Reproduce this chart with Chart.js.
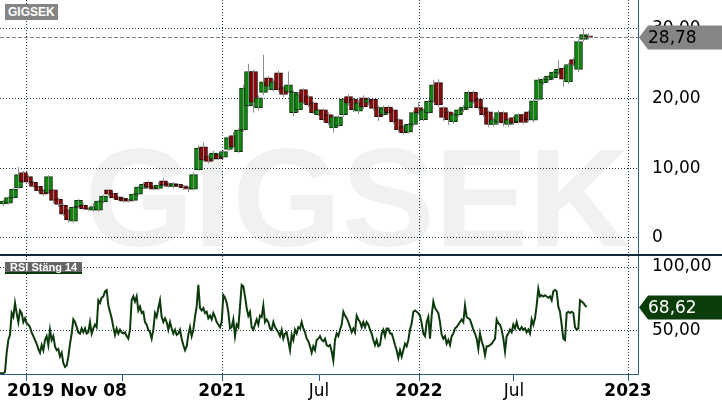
<!DOCTYPE html>
<html>
<head>
<meta charset="utf-8">
<script src="https://cdn.jsdelivr.net/npm/chart.js@4.4.0/dist/chart.umd.min.js"></script>
<style>
    html, body { margin: 0; padding: 0; background: #fff; }
    #wrap { position: relative; width: 722px; height: 410px; overflow: hidden; }
    #priceChart { position: absolute; left: 0; top: 0; }
    #sep { position: absolute; left: 0; top: 254px; width: 722px; height: 2px; background: #0c2a3c; }
    #rsiChart { position: absolute; left: 0; top: 256px; }
    .tag { position: absolute; color: #fff; font: bold 12px "Liberation Sans", Arial, sans-serif; padding: 0 3px; white-space: nowrap; }
    #tagPrice { left: 5px; top: 4px; height: 16px; line-height: 16px; background: #858585; }
    #tagRsi { left: 5px; top: 262px; height: 10px; line-height: 11px; font-size: 11px; background: #666; border-bottom: 2px solid #0b3a0b; padding: 0 5px; }
</style>
</head>
<body>
<div id="wrap">
    <canvas id="priceChart" width="722" height="254"></canvas>
    <div id="sep"></div>
    <canvas id="rsiChart" width="722" height="154"></canvas>
    <div class="tag" id="tagPrice">GIGSEK</div>
    <div class="tag" id="tagRsi">RSI Stäng 14</div>
</div>
<script>
const symbol = 'GIGSEK';

// weekly candles
const opens = [
    4.9, 5.0, 5.8, 7.2, 9.4, 8.8, 8.0, 7.4, 6.9, 6.5,
    6.9, 5.6, 4.7, 4.0, 2.4, 4.5, 4.7, 4.3, 4.0, 4.0,
    5.2, 6.9, 6.4, 5.9, 5.7, 5.5, 5.4, 6.3, 7.1, 8.0,
    7.4, 7.1, 8.2, 7.8, 7.4, 7.7, 7.5, 7.3, 7.0, 9.8,
    13.1, 11.7, 11.3, 12.0, 11.6, 12.7, 14.7, 12.4, 15.5, 19.0,
    23.9, 18.7, 20.9, 23.0, 21.3, 23.7, 21.6, 21.0, 18.0, 18.4,
    21.3, 20.3, 19.4, 17.7, 18.4, 17.7, 15.8, 16.1, 17.7, 20.3,
    19.9, 18.2, 20.1, 19.4, 19.9, 18.7, 17.7, 18.8, 18.4, 17.0,
    16.0, 15.2, 16.3, 18.7, 17.0, 18.0, 19.6, 22.3, 18.7, 18.1,
    16.7, 17.7, 18.4, 18.7, 20.9, 19.9, 18.7, 18.1, 16.3, 16.7,
    18.0, 16.3, 17.3, 16.7, 17.7, 18.1, 16.9, 19.9, 22.3, 22.7,
    23.0, 23.7, 24.4, 22.4, 25.6, 24.2, 28.5, 29.0
];
const highs = [
    5.5, 6.0, 7.2, 10.2, 9.6, 9.0, 8.2, 7.5, 7.0, 9.0,
    7.0, 5.8, 4.9, 4.2, 4.6, 5.6, 4.9, 4.4, 5.0, 5.4,
    6.2, 7.0, 6.5, 6.0, 5.9, 5.6, 6.5, 7.5, 8.0, 8.2,
    7.6, 8.0, 8.6, 8.0, 8.0, 7.8, 7.6, 7.4, 9.4, 13.3,
    13.7, 12.0, 12.5, 12.2, 12.6, 14.6, 15.2, 15.7, 22.0, 25.0,
    24.2, 20.5, 26.3, 23.3, 22.8, 24.0, 21.8, 23.9, 21.2, 21.0,
    21.5, 20.5, 19.6, 18.6, 18.6, 18.0, 17.7, 17.6, 20.1, 20.6,
    20.1, 19.8, 20.5, 20.2, 20.0, 19.0, 19.0, 19.0, 18.6, 17.2,
    16.2, 16.5, 18.3, 19.5, 18.6, 19.8, 22.7, 22.8, 18.9, 18.3,
    18.0, 18.6, 19.1, 21.2, 21.2, 20.1, 18.9, 18.3, 17.3, 18.3,
    18.2, 17.2, 17.5, 17.9, 17.9, 18.3, 19.9, 23.0, 23.1, 23.4,
    24.0, 25.5, 24.6, 25.1, 25.9, 28.5, 30.0, 29.4
];
const lows = [
    4.6, 4.8, 5.6, 7.0, 7.9, 7.8, 7.2, 6.5, 6.0, 6.3,
    5.0, 4.5, 3.2, 2.2, 2.2, 4.3, 4.0, 3.9, 3.8, 3.8,
    5.0, 6.0, 5.6, 5.3, 5.1, 5.1, 5.2, 6.1, 7.0, 7.1,
    6.9, 6.9, 7.4, 7.2, 7.1, 7.2, 6.9, 6.6, 6.8, 9.6,
    11.0, 10.7, 11.0, 11.2, 11.4, 12.5, 12.9, 12.2, 15.2, 18.8,
    18.0, 18.3, 20.5, 21.2, 21.0, 21.0, 20.2, 20.8, 17.5, 18.0,
    19.2, 18.8, 17.8, 17.5, 16.6, 16.2, 15.1, 15.9, 17.4, 19.0,
    18.1, 17.8, 18.5, 19.0, 18.3, 16.8, 17.5, 17.8, 16.4, 15.2,
    14.8, 15.0, 16.0, 17.7, 16.8, 17.8, 19.4, 18.8, 16.8, 16.2,
    16.4, 17.4, 18.1, 18.4, 19.3, 18.4, 17.4, 15.9, 16.0, 16.3,
    16.0, 15.9, 16.2, 16.4, 16.3, 16.7, 16.6, 19.7, 22.0, 22.4,
    22.7, 23.4, 21.7, 22.1, 24.6, 23.8, 28.2, 28.5
];
const closes = [
    5.3, 5.8, 7.0, 9.1, 8.1, 8.0, 7.4, 6.8, 6.3, 8.8,
    5.4, 4.8, 3.4, 2.6, 4.4, 5.4, 4.2, 4.1, 4.5, 5.3,
    6.0, 6.3, 5.8, 5.5, 5.3, 5.3, 6.3, 7.3, 7.7, 7.3,
    7.0, 7.6, 7.6, 7.4, 7.8, 7.4, 7.2, 7.0, 9.1, 12.9,
    11.2, 11.0, 12.2, 11.4, 12.4, 14.4, 13.1, 15.5, 21.5, 23.9,
    19.5, 20.1, 22.4, 21.8, 22.4, 21.3, 20.6, 22.0, 20.9, 20.6,
    19.5, 19.1, 18.0, 18.4, 17.0, 16.5, 17.4, 17.4, 19.9, 19.4,
    18.4, 19.4, 18.8, 19.9, 18.6, 17.4, 18.7, 18.0, 16.7, 15.5,
    15.1, 16.3, 18.0, 18.0, 18.4, 19.6, 22.0, 19.1, 17.3, 17.0,
    17.7, 18.4, 18.8, 20.9, 19.6, 18.7, 17.7, 16.3, 17.0, 18.0,
    16.5, 17.0, 16.5, 17.7, 16.6, 17.0, 19.7, 22.7, 22.8, 23.2,
    23.8, 24.2, 22.8, 24.9, 24.9, 28.2, 29.2, 28.78
];

// RSI (close, 14), one reading per bar step of the lower panel
const rsi = [
    17, 17, 17, 18, 33, 43, 47, 64, 61, 72,
    64, 57, 66, 64, 57, 60, 56, 55, 53, 49,
    46, 43, 40, 36, 33, 39, 35, 43, 46, 39,
    51, 43, 46, 38, 35, 36, 30, 33, 25, 22,
    23, 30, 40, 48, 59, 57, 53, 49, 48, 52,
    49, 52, 48, 49, 57, 48, 52, 55, 53, 74,
    72, 76, 77, 81, 82, 70, 65, 60, 53, 47,
    52, 48, 51, 49, 48, 49, 46, 44, 51, 74,
    77, 73, 77, 66, 69, 64, 65, 57, 55, 51,
    49, 44, 51, 64, 61, 68, 74, 61, 57, 60,
    57, 51, 57, 52, 48, 51, 47, 48, 51, 44,
    39, 35, 38, 47, 53, 46, 51, 61, 69, 86,
    68, 66, 68, 64, 65, 60, 62, 59, 64, 61,
    57, 55, 53, 57, 78, 76, 72, 65, 52, 53,
    59, 46, 55, 53, 69, 86, 85, 77, 68, 62,
    65, 53, 51, 55, 59, 55, 62, 61, 70, 57,
    59, 57, 52, 51, 57, 53, 51, 49, 46, 51,
    44, 48, 49, 42, 35, 47, 43, 51, 48, 53,
    52, 57, 52, 49, 44, 42, 38, 33, 38, 35,
    43, 44, 46, 43, 42, 44, 39, 38, 39, 34,
    27, 43, 48, 46, 51, 55, 65, 62, 60, 57,
    53, 49, 52, 49, 62, 59,
    57, 53, 57, 53, 57, 55, 51, 48, 43, 39,
    43, 38, 39, 48, 51, 46, 52, 52, 48, 48,
    44, 39, 35, 29, 35, 30, 35, 40, 38, 43,
    51, 56, 65, 66, 65, 64, 62, 56, 48, 46,
    57, 61, 44, 62, 73, 68, 66, 64, 57, 47,
    44, 46, 40, 43, 39, 46, 48, 52, 53, 55,
    57, 59, 57, 70, 61, 60, 59, 55, 51, 48,
    44, 36, 48, 42, 38, 31, 38, 38, 39, 40,
    42, 44, 59, 56, 55, 51, 44, 34, 46, 48,
    51, 49, 55, 52, 57, 52, 51, 53, 51, 52,
    49, 51, 48, 59, 55, 60, 70, 83, 77, 78,
    77, 78, 77, 76, 77, 74, 81, 82, 81, 69,
    65, 55, 44, 43, 64, 65, 64, 65, 64, 53,
    51, 52, 74, 73, 72, 70, 68.62
];

const priceTicks = [0, 10, 20, 30];
const rsiTicks = [50, 100];
const timeTicks = [15.6, 40.2, 73.8, 133.2, 191.4, 251.4, 308.4, 376.8];
const timeLabels = ['', '2019 Nov 08', '', '2021', 'Jul', '2022', 'Jul', '2023'];
const yearLines = [15.6, 133.2, 251.4, 376.8];

const xMax = 382.8;
const gridColor = '#1c3448';
const axisColor = '#2b5b8c';
const upFill = '#0b870b', downFill = '#860808';
const upLine = '#0a2e0a', downLine = '#2a0505';
const none = 'rgba(0,0,0,0)';

const fmt = v => v.toFixed(2).replace('.', ',');

// one candle per 3 steps of the shared time axis
const candleX = closes.map((c, i) => 3 * i + 2.1);
const wickData = candleX.map((x, i) => ({ x, y: [lows[i], highs[i]] }));
const bodyData = candleX.map((x, i) => ({ x, y: [opens[i], closes[i]] }));
const bodyFill = closes.map((c, i) => c >= opens[i] ? upFill : downFill);
const bodyLine = closes.map((c, i) => c >= opens[i] ? upLine : downLine);

function timeAxis(withLabels) {
    return {
        type: 'linear', min: 0, max: xMax, offset: false,
        afterBuildTicks: s => { s.ticks = timeTicks.map(v => ({ value: v })); },
        afterFit: s => { s.height = withLabels ? 36 : 0; s.paddingLeft = 0; s.paddingRight = 0; },
        grid: {
            offset: false,
            color: c => (c.tick && yearLines.includes(c.tick.value)) ? gridColor : none,
            drawTicks: withLabels,
            tickLength: 7,
            tickColor: c => (timeLabels[c.index] === '2019 Nov 08') ? none : axisColor,
        },
        border: { display: withLabels, color: axisColor, width: 1, dash: [1, 2] },
        ticks: {
            display: withLabels, autoSkip: false, maxRotation: 0, padding: 0, color: '#000',
            font: c => ({ family: 'DejaVu Sans', size: 17, weight: timeLabels[c.index] === 'Jul' ? 'normal' : 'bold' }),
            callback: (v, i) => timeLabels[i],
        },
    };
}

function valueAxis(min, max, tickValues, label) {
    return {
        position: 'right', min, max,
        afterBuildTicks: s => { s.ticks = tickValues.map(v => ({ value: v })); },
        afterFit: s => { s.width = 84; s.paddingTop = 0; s.paddingBottom = 0; },
        grid: { color: gridColor, drawTicks: false },
        border: { display: true, color: axisColor, width: 1, dash: [1, 2] },
        ticks: { padding: 14, color: '#000', font: { family: 'DejaVu Sans', size: 17 }, callback: label },
    };
}

const watermark = {
    id: 'watermark',
    beforeDraw(chart) {
        const ctx = chart.ctx;
        ctx.save();
        ctx.font = 'bold 140px "Liberation Sans", Arial, sans-serif';
        ctx.fillStyle = '#f1f1f1';
        ctx.textAlign = 'center';
        ctx.textBaseline = 'alphabetic';
        ctx.fillText(symbol, 357, 246);
        ctx.restore();
    }
};

function lastValueTag(value, fill, textColor, dashed) {
    return {
        id: 'lastTag',
        afterDraw(chart) {
            const { ctx, chartArea } = chart;
            const y = Math.round(chart.scales.y.getPixelForValue(value)) + 0.5;
            ctx.save();
            if (dashed) {
                ctx.strokeStyle = '#808080';
                ctx.lineWidth = 1;
                ctx.setLineDash([4, 2]);
                ctx.beginPath();
                ctx.moveTo(chartArea.left, y);
                ctx.lineTo(chartArea.right + 2, y);
                ctx.stroke();
                ctx.setLineDash([]);
            }
            const x0 = chartArea.right + 1, h = 12;
            ctx.fillStyle = fill;
            ctx.beginPath();
            ctx.moveTo(x0, y);
            ctx.lineTo(x0 + 9, y - h);
            ctx.lineTo(chart.width, y - h);
            ctx.lineTo(chart.width, y + h);
            ctx.lineTo(x0 + 9, y + h);
            ctx.closePath();
            ctx.fill();
            ctx.fillStyle = textColor;
            ctx.font = '17px "DejaVu Sans", sans-serif';
            ctx.textAlign = 'left';
            ctx.textBaseline = 'middle';
            ctx.fillText(fmt(value), x0 + 9, y + 1);
            ctx.restore();
        }
    };
}

const common = {
    responsive: false,
    animation: false,
    events: [],
    layout: { padding: 0 },
    plugins: { legend: { display: false }, tooltip: { enabled: false } },
};

new Chart(document.getElementById('priceChart'), {
    type: 'bar',
    data: {
        datasets: [
            { data: wickData, backgroundColor: '#8c8c8c', borderWidth: 0, barThickness: 1, inflateAmount: 0, grouped: false },
            { data: bodyData, backgroundColor: bodyFill, borderColor: bodyLine, borderWidth: 1, borderSkipped: false, barThickness: 8, grouped: false },
        ]
    },
    options: {
        ...common,
        scales: {
            x: timeAxis(false),
            y: valueAxis(-2.30, 34.16, priceTicks, v => v === 0 ? '0' : fmt(v)),
        }
    },
    plugins: [watermark, lastValueTag(closes[closes.length - 1], '#858585', '#000', true)]
});

new Chart(document.getElementById('rsiChart'), {
    type: 'line',
    data: {
        datasets: [{
            data: rsi.map((v, k) => ({ x: k, y: v })),
            borderColor: '#0d3a0d', borderWidth: 2, pointRadius: 0, tension: 0,
        }]
    },
    options: {
        ...common,
        scales: {
            x: timeAxis(true),
            y: valueAxis(16.4, 108.6, rsiTicks, v => fmt(v)),
        }
    },
    plugins: [lastValueTag(rsi[rsi.length - 1], '#0b3d0b', '#fff', false)]
});
</script>
</body>
</html>
